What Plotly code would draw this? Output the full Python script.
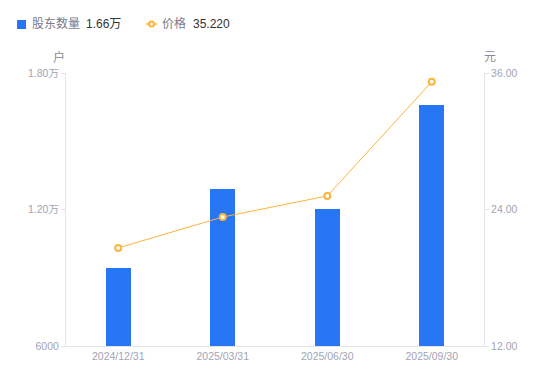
import plotly.graph_objects as go

categories = ["2024/12/31", "2025/03/31", "2025/06/30", "2025/09/30"]
holders = [9430, 12900, 12020, 16600]
prices = [20.62, 23.34, 25.19, 35.22]
left_ticks = [6000, 12000, 18000]
left_labels = ["6000", "1.20万", "1.80万"]
right_ticks = [12, 24, 36]
right_labels = ["12.00", "24.00", "36.00"]
legend_names = ["股东数量", "价格"]
legend_values = ["1.66万", "35.220"]

W, H = 550, 381
L, R, T, B = 66, 484, 73, 346

BLUE = "#2676f6"
ORANGE = "#fcb43c"
TICK = "#a3a3b5"
FONT = "Liberation Sans, Noto Sans CJK SC, sans-serif"


def px(x):
    return (x - L) / (R - L)


def py(y):
    return (B - y) / (B - T)


fig = go.Figure()
fig.add_trace(go.Bar(
    x=categories, y=holders, marker=dict(color=BLUE, line=dict(width=0)),
    width=0.24, name=legend_names[0], yaxis="y"))
fig.add_trace(go.Scatter(
    x=categories, y=prices, mode="lines+markers",
    line=dict(color=ORANGE, width=1),
    marker=dict(symbol="circle", size=6, color="white", line=dict(color=ORANGE, width=2)),
    name=legend_names[1], yaxis="y2"))

axis_common = dict(showgrid=False, showline=True, linecolor="#e3e3e8", linewidth=1,
                   zeroline=False, automargin=False,
                   tickfont=dict(size=10.5, color=TICK))

fig.update_layout(
    width=W, height=H,
    margin=dict(l=L, r=W - R, t=T, b=H - B, pad=0),
    plot_bgcolor="white", paper_bgcolor="white",
    font=dict(family=FONT, color=TICK, size=11),
    showlegend=False,
    bargap=0,
    xaxis=dict(ticks="", fixedrange=True, **axis_common),
    yaxis=dict(range=[6000, 18000], tickvals=left_ticks, ticktext=left_labels,
               ticks="outside", ticklen=4, tickcolor="#e3e3e8", **axis_common),
    yaxis2=dict(range=[12, 36], tickvals=right_ticks, ticktext=right_labels,
                overlaying="y", side="right",
                ticks="outside", ticklen=4, tickcolor="#e3e3e8", **axis_common),
)

ann = []
ann.append(dict(text="户", x=px(59), y=py(57)))
ann.append(dict(text="元", x=px(490), y=py(57)))
for a in ann:
    a.update(xref="paper", yref="paper", showarrow=False, xanchor="center",
             yanchor="middle", font=dict(size=12, color="#8a8a9a", family=FONT))

# manual legend
leg = [
    dict(text=legend_names[0], x=px(30), color="#7a7a8a"),
    dict(text=legend_values[0], x=px(84), color="#333333"),
    dict(text=legend_names[1], x=px(160), color="#7a7a8a"),
    dict(text=legend_values[1], x=px(191), color="#333333"),
]
for l in leg:
    ann.append(dict(text=l["text"], x=l["x"], y=py(24), xref="paper", yref="paper",
                    showarrow=False, xanchor="left", yanchor="middle",
                    font=dict(size=12, color=l["color"], family=FONT)))
fig.update_layout(annotations=ann)

shapes = [
    dict(type="rect", xref="paper", yref="paper", x0=px(17), x1=px(26),
         y0=py(29), y1=py(20), fillcolor=BLUE, line=dict(width=0)),
    dict(type="line", xref="paper", yref="paper", x0=px(146), x1=px(157),
         y0=py(24), y1=py(24), line=dict(color=ORANGE, width=1.5)),
    dict(type="circle", xref="paper", yref="paper", x0=px(149), x1=px(154),
         y0=py(26.5), y1=py(21.5), fillcolor="white", line=dict(color=ORANGE, width=2)),
]
fig.update_layout(shapes=shapes)

fig.write_html("out.html", config={"displayModeBar": False},
               post_script="document.body.style.margin='0';")
